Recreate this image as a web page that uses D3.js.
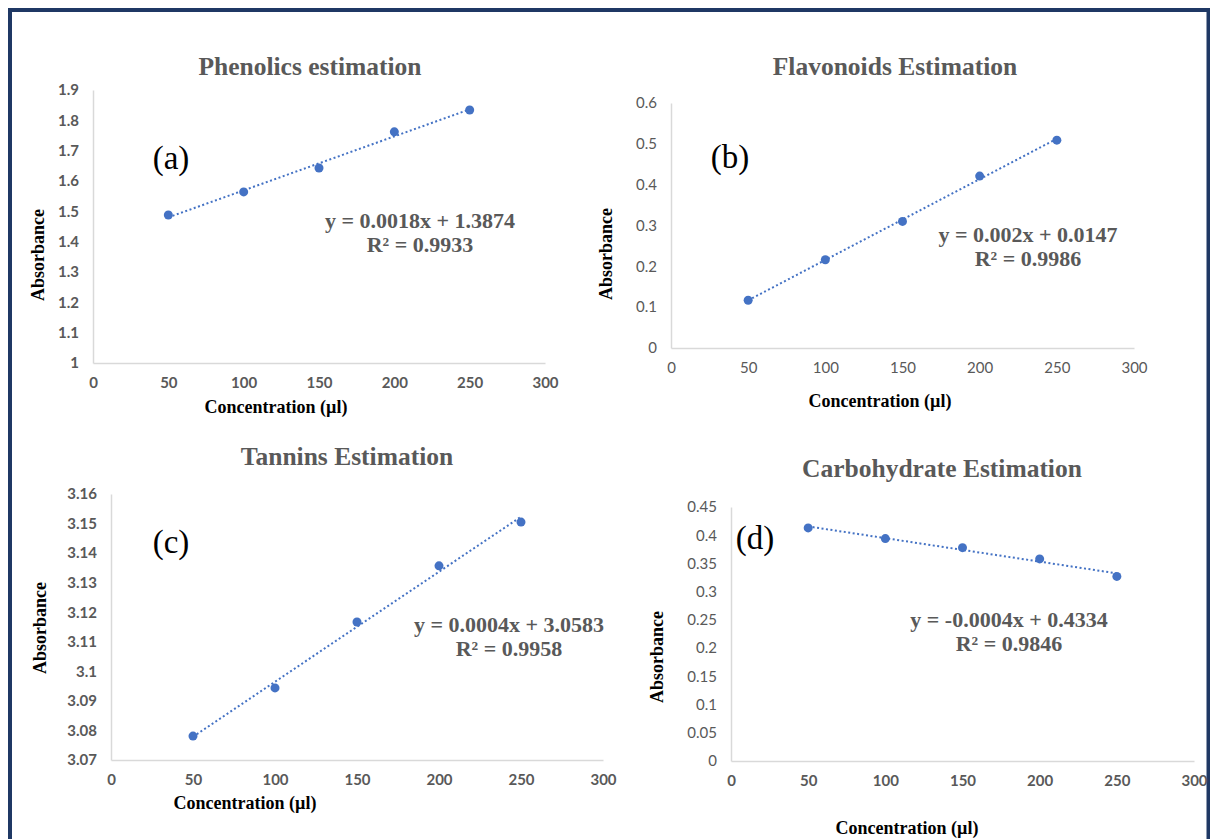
<!DOCTYPE html>
<html>
<head>
<meta charset="utf-8">
<script src="https://cdn.jsdelivr.net/npm/d3@7"></script>
<style>
  body { margin: 0; background: #fff; }
</style>
</head>
<body>
<div id="chart"></div>
<script>
// concentration values shared by all four panels
var concentration = [50, 100, 150, 200, 250];
var xTicks = [0, 50, 100, 150, 200, 250, 300];

var phenolics = [1.488, 1.564, 1.643, 1.762, 1.834];
var flavonoids = [0.117, 0.216, 0.310, 0.421, 0.509];
var tannins = [3.0781, 3.0944, 3.1167, 3.1357, 3.1505];
var carbohydrate = [0.413, 0.394, 0.378, 0.358, 0.327];

var phenolicsTicks = [1, 1.1, 1.2, 1.3, 1.4, 1.5, 1.6, 1.7, 1.8, 1.9];
var flavonoidsTicks = [0, 0.1, 0.2, 0.3, 0.4, 0.5, 0.6];
var tanninsTicks = [3.07, 3.08, 3.09, 3.1, 3.11, 3.12, 3.13, 3.14, 3.15, 3.16];
var carbohydrateTicks = [0, 0.05, 0.1, 0.15, 0.2, 0.25, 0.3, 0.35, 0.4, 0.45];

var titles = ['Phenolics estimation', 'Flavonoids Estimation', 'Tannins Estimation', 'Carbohydrate Estimation'];
var letters = ['(a)', '(b)', '(c)', '(d)'];
var equations = ['y = 0.0018x + 1.3874', 'y = 0.002x + 0.0147', 'y = 0.0004x + 3.0583', 'y = -0.0004x + 0.4334'];
var rSquared = ['R² = 0.9933', 'R² = 0.9986', 'R² = 0.9958', 'R² = 0.9846'];

var blue = '#4472c4';
var grey = '#595959';
var serif = '"Liberation Serif", "Times New Roman", serif';
var sans = 'Lato, "Open Sans", sans-serif';

// layout of each panel (pixels)
var panels = [
    {values: phenolics, ticks: phenolicsTicks, left: 93, right: 545, top: 90, bottom: 363,
     titleX: 310, titleY: 75, letterX: 171, letterY: 169, eqX: 420, eqY: 228,
     yLabX: 38, yLabY: 255, xLabX: 276, xLabY: 413, yTickWeight: 'bold', xTickWeight: 'bold'},
    {values: flavonoids, ticks: flavonoidsTicks, left: 671, right: 1134, top: 103, bottom: 348,
     titleX: 895, titleY: 75, letterX: 730, letterY: 168, eqX: 1028, eqY: 242,
     yLabX: 606, yLabY: 254, xLabX: 880, xLabY: 407, yTickWeight: 'normal', xTickWeight: 'normal'},
    {values: tannins, ticks: tanninsTicks, left: 111, right: 603, top: 494, bottom: 760,
     titleX: 347, titleY: 465, letterX: 171, letterY: 553, eqX: 509, eqY: 632,
     yLabX: 40, yLabY: 628, xLabX: 245, xLabY: 809, yTickWeight: 'bold', xTickWeight: 'bold'},
    {values: carbohydrate, ticks: carbohydrateTicks, left: 731, right: 1194, top: 507, bottom: 761,
     titleX: 942, titleY: 477, letterX: 755, letterY: 549, eqX: 1009, eqY: 627,
     yLabX: 657, yLabY: 657, xLabX: 907, xLabY: 834, yTickWeight: 'normal', xTickWeight: 'bold'}
];

var svg = d3.select('#chart').append('svg')
    .attr('width', 1210)
    .attr('height', 839);

svg.append('rect').attr('width', 1210).attr('height', 839).attr('fill', '#fff');

// dark frame round the figure
svg.append('rect')
    .attr('x', 10).attr('y', 10)
    .attr('width', 1198.5).attr('height', 860)
    .attr('fill', 'none')
    .attr('stroke', '#1f3864')
    .attr('stroke-width', 4);

function fit(xs, ys) {
    var mx = d3.mean(xs), my = d3.mean(ys);
    var num = d3.sum(xs, (x, i) => (x - mx) * (ys[i] - my));
    var den = d3.sum(xs, x => (x - mx) * (x - mx));
    var slope = num / den;
    return {slope: slope, intercept: my - slope * mx};
}

panels.forEach(function(p, k) {
    var x = d3.scaleLinear().domain([0, 300]).range([p.left, p.right]);
    var y = d3.scaleLinear().domain([p.ticks[0], p.ticks[p.ticks.length - 1]]).range([p.bottom, p.top]);
    var g = svg.append('g');

    var yAxis = g.append('g')
        .attr('transform', 'translate(' + p.left + ',0)')
        .call(d3.axisLeft(y).tickValues(p.ticks).tickSize(0).tickPadding(14).tickFormat(d3.format('')));
    var xAxis = g.append('g')
        .attr('transform', 'translate(0,' + p.bottom + ')')
        .call(d3.axisBottom(x).tickValues(xTicks).tickSize(0).tickPadding(14));

    [[xAxis, p.xTickWeight], [yAxis, p.yTickWeight]].forEach(function(a) {
        a[0].select('.domain').attr('stroke', '#d9d9d9').attr('stroke-width', 1.5);
        a[0].selectAll('text')
            .attr('fill', grey)
            .attr('font-family', sans)
            .attr('font-size', '15px')
            .attr('font-weight', a[1]);
    });

    // dotted linear trendline between first and last point
    var f = fit(concentration, p.values);
    var x0 = concentration[0], x1 = concentration[concentration.length - 1];
    g.append('line')
        .attr('x1', x(x0)).attr('y1', y(f.slope * x0 + f.intercept))
        .attr('x2', x(x1)).attr('y2', y(f.slope * x1 + f.intercept))
        .attr('stroke', blue)
        .attr('stroke-width', 2)
        .attr('stroke-dasharray', '2,2.5');

    g.selectAll('circle.pt')
        .data(p.values)
        .join('circle')
        .attr('class', 'pt')
        .attr('cx', (d, i) => x(concentration[i]))
        .attr('cy', d => y(d))
        .attr('r', 4.5)
        .attr('fill', blue);

    g.append('text')
        .attr('x', p.titleX).attr('y', p.titleY)
        .attr('text-anchor', 'middle')
        .attr('font-family', serif)
        .attr('font-weight', 'bold')
        .attr('font-size', '25.5px')
        .attr('fill', grey)
        .text(titles[k]);

    g.append('text')
        .attr('x', p.letterX).attr('y', p.letterY)
        .attr('text-anchor', 'middle')
        .attr('font-family', serif)
        .attr('font-size', '33px')
        .attr('fill', '#000')
        .text(letters[k]);

    g.append('text')
        .attr('x', p.eqX).attr('y', p.eqY)
        .attr('text-anchor', 'middle')
        .attr('font-family', serif)
        .attr('font-weight', 'bold')
        .attr('font-size', '22px')
        .attr('fill', grey)
        .text(equations[k]);
    g.append('text')
        .attr('x', p.eqX).attr('y', p.eqY + 24)
        .attr('text-anchor', 'middle')
        .attr('font-family', serif)
        .attr('font-weight', 'bold')
        .attr('font-size', '22px')
        .attr('fill', grey)
        .text(rSquared[k]);

    g.append('text')
        .attr('transform', 'translate(' + (p.yLabX + 6) + ',' + p.yLabY + ') rotate(-90)')
        .attr('text-anchor', 'middle')
        .attr('font-family', serif)
        .attr('font-weight', 'bold')
        .attr('font-size', '18px')
        .attr('fill', '#000')
        .text('Absorbance');

    g.append('text')
        .attr('x', p.xLabX).attr('y', p.xLabY)
        .attr('text-anchor', 'middle')
        .attr('font-family', serif)
        .attr('font-weight', 'bold')
        .attr('font-size', '18px')
        .attr('fill', '#000')
        .text('Concentration (µl)');
});
</script>
</body>
</html>
